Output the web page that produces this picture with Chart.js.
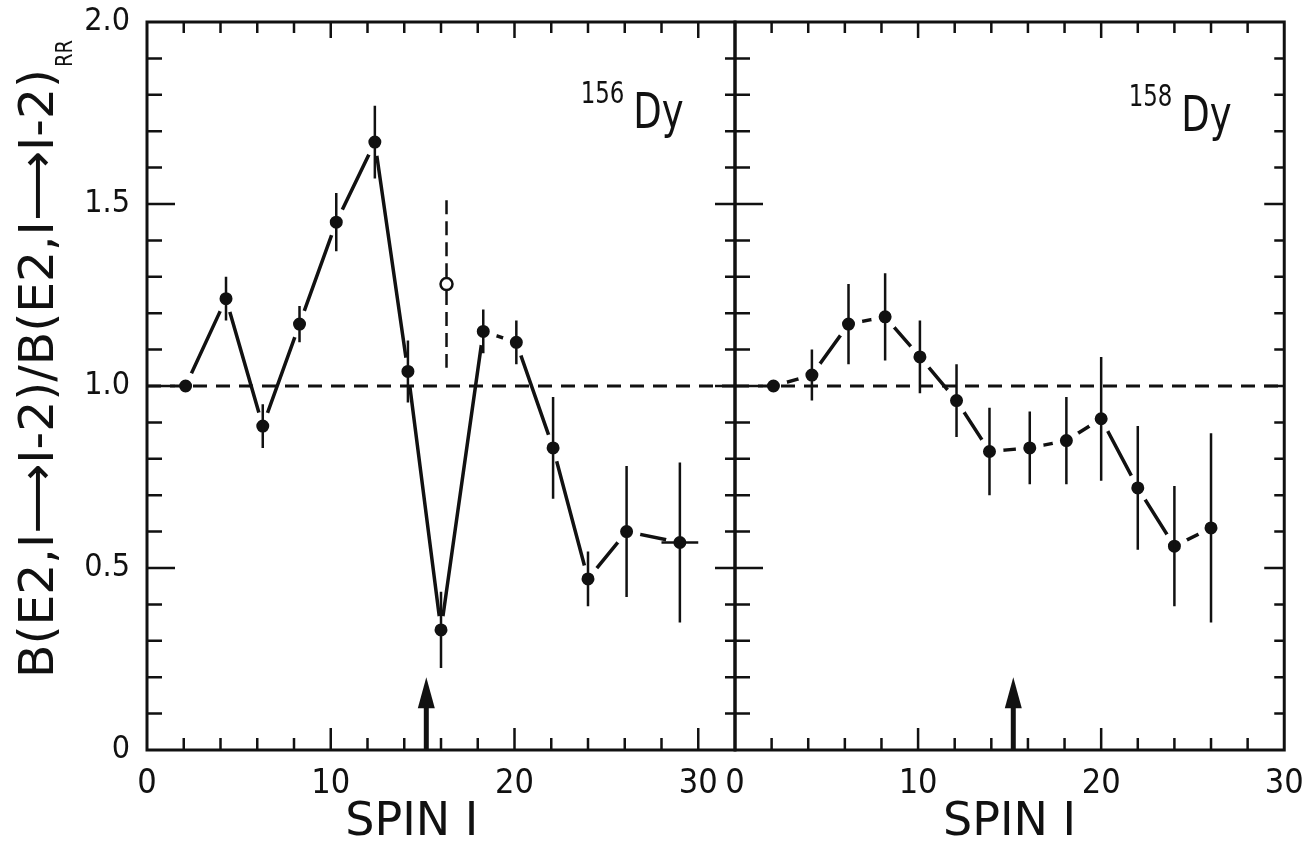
<!DOCTYPE html>
<html>
<head>
<meta charset="utf-8">
<title>B(E2) ratios in 156Dy and 158Dy</title>
<script src="https://cdn.jsdelivr.net/npm/chart.js@4.4.1/dist/chart.umd.min.js"></script>
<style>
  html, body { margin: 0; padding: 0; background: #fff; }
  #wrap { position: relative; width: 1302px; height: 853px; overflow: hidden; }
  canvas { position: absolute; top: 0; }
  #left { left: 0; }
  #right { left: 710px; }
</style>
</head>
<body>
<div id="wrap">
  <canvas id="left" width="760" height="853"></canvas>
  <canvas id="right" width="592" height="853"></canvas>
</div>
<script>
// 156Dy yrast band, B(E2) relative to the rigid rotor
const spin156 = [2.1, 4.3, 6.3, 8.3, 10.3, 12.4, 14.2, 16.0, 18.3, 20.1, 22.1, 24.0, 26.1, 29.0];
const ratio156 = [1.00, 1.24, 0.89, 1.17, 1.45, 1.67, 1.04, 0.33, 1.15, 1.12, 0.83, 0.47, 0.60, 0.57];
const err156 = [0, 0.06, 0.06, 0.05, 0.08, 0.10, 0.085, 0.105, 0.06, 0.06, 0.14, 0.075, 0.18, 0.22];
const spinErr156 = [0, 0, 0, 0, 0, 0, 0, 0, 0, 0, 0, 0, 0, 1.0];

// the single open point (uncertain value) in 156Dy
const spinOpen156 = [16.3];
const ratioOpen156 = [1.28];
const errOpen156 = [0.23];

// 158Dy
const spin158 = [2.1, 4.2, 6.2, 8.2, 10.1, 12.1, 13.9, 16.1, 18.1, 20.0, 22.0, 24.0, 26.0];
const ratio158 = [1.00, 1.03, 1.17, 1.19, 1.08, 0.96, 0.82, 0.83, 0.85, 0.91, 0.72, 0.56, 0.61];
const err158 = [0, 0.07, 0.11, 0.12, 0.10, 0.10, 0.12, 0.10, 0.12, 0.17, 0.17, 0.165, 0.26];

// band crossing marked by an arrow, and the rigid rotor reference
const crossingSpin = [15.2, 15.2];
const arrowTop = 0.2;
const rigidRotor = 1.0;

const ink = '#111';
const TICK_FONT = "'DejaVu Sans Condensed', 'DejaVu Sans', sans-serif";
const TEXT_FONT = "'DejaVu Sans', sans-serif";

function points(xs, ys) {
    return xs.map((x, i) => ({ x: x, y: ys[i] }));
}

// error bars drawn on top of the datasets
const errorBars = {
    id: 'errorBars',
    afterDatasetsDraw(chart) {
        const ctx = chart.ctx, xs = chart.scales.x, ys = chart.scales.y;
        chart.data.datasets.forEach(ds => {
            if (!ds.errY) return;
            ctx.save();
            ctx.strokeStyle = ink;
            ctx.lineWidth = 2.5;
            ctx.setLineDash(ds.errDash || []);
            const gap = ds.errGap || 0;
            ds.data.forEach((p, i) => {
                const px = xs.getPixelForValue(p.x), py = ys.getPixelForValue(p.y);
                if (ds.errY[i]) {
                    ctx.beginPath();
                    ctx.moveTo(px, ys.getPixelForValue(p.y + ds.errY[i]));
                    ctx.lineTo(px, py - gap);
                    ctx.moveTo(px, py + gap);
                    ctx.lineTo(px, ys.getPixelForValue(p.y - ds.errY[i]));
                    ctx.stroke();
                }
                if (ds.errX && ds.errX[i]) {
                    ctx.beginPath();
                    ctx.moveTo(xs.getPixelForValue(p.x - ds.errX[i]), py);
                    ctx.lineTo(xs.getPixelForValue(p.x + ds.errX[i]), py);
                    ctx.stroke();
                }
            });
            ctx.restore();
        });
    }
};

// box around the plot with inward ticks on all four sides
const frame = {
    id: 'frame',
    afterDraw(chart) {
        const ctx = chart.ctx, a = chart.chartArea;
        const xs = chart.scales.x, ys = chart.scales.y;
        ctx.save();
        ctx.strokeStyle = ink;
        ctx.lineWidth = 3;
        ctx.strokeRect(a.left, a.top, a.right - a.left, a.bottom - a.top);
        ctx.lineWidth = 2.5;
        ctx.beginPath();
        xs.ticks.forEach(t => {
            if (t.value <= xs.min || t.value >= xs.max) return;
            const p = xs.getPixelForValue(t.value);
            const major = t.value % 10 === 0;
            ctx.moveTo(p, a.bottom);
            ctx.lineTo(p, a.bottom - (major ? 22 : 12));
            ctx.moveTo(p, a.top);
            ctx.lineTo(p, a.top + (major ? 16 : 11));
        });
        ys.ticks.forEach(t => {
            const r = Math.round(t.value * 10);
            if (r <= 0 || r >= 20) return;
            const p = ys.getPixelForValue(t.value);
            const major = r % 5 === 0;
            ctx.moveTo(a.left, p);
            ctx.lineTo(a.left + (major ? 28 : 15), p);
            ctx.moveTo(a.right, p);
            ctx.lineTo(a.right - (major ? 20 : 10), p);
        });
        ctx.stroke();
        ctx.restore();
    }
};

// upward arrow at the crossing spin
const crossingArrow = {
    id: 'crossingArrow',
    afterDraw(chart, args, o) {
        const ctx = chart.ctx, xs = chart.scales.x, ys = chart.scales.y;
        const x = xs.getPixelForValue(o.spin);
        const tip = ys.getPixelForValue(arrowTop);
        const base = ys.getPixelForValue(0);
        ctx.save();
        ctx.fillStyle = ink;
        ctx.strokeStyle = ink;
        ctx.lineWidth = 5;
        ctx.beginPath();
        ctx.moveTo(x, base);
        ctx.lineTo(x, tip + 20);
        ctx.stroke();
        ctx.beginPath();
        ctx.moveTo(x, tip);
        ctx.lineTo(x - 8.5, tip + 31);
        ctx.lineTo(x + 8.5, tip + 31);
        ctx.closePath();
        ctx.fill();
        ctx.restore();
    }
};

// nucleus label with mass number as superscript
const isotope = {
    id: 'isotope',
    afterDraw(chart, args, o) {
        const ctx = chart.ctx;
        const x = chart.scales.x.getPixelForValue(o.at[0]);
        const y = chart.scales.y.getPixelForValue(o.at[1]);
        ctx.save();
        ctx.fillStyle = ink;
        ctx.textBaseline = 'alphabetic';
        ctx.translate(x, y);
        ctx.scale(0.74, 1);
        ctx.font = '31px ' + TEXT_FONT;
        ctx.fillText(o.mass, 0, -25);
        const w = ctx.measureText(o.mass).width;
        ctx.font = '50px ' + TEXT_FONT;
        ctx.fillText(o.symbol, w + 12, 0);
        ctx.restore();
    }
};

// rotated y title with the RR subscript
const yTitle = {
    id: 'yTitle',
    afterDraw(chart, args, o) {
        if (!o.text) return;
        const ctx = chart.ctx;
        ctx.save();
        ctx.fillStyle = ink;
        ctx.textBaseline = 'alphabetic';
        ctx.translate(o.x, o.bottom);
        ctx.rotate(-Math.PI / 2);
        ctx.font = '48px ' + TEXT_FONT;
        const w = ctx.measureText(o.text).width;
        ctx.save();
        ctx.scale(o.length / w, 1);
        ctx.fillText(o.text, 0, 0);
        ctx.restore();
        ctx.font = '23px ' + TEXT_FONT;
        ctx.save();
        ctx.translate(o.length + 2, 19);
        ctx.scale(0.85, 1);
        ctx.fillText(o.sub, 0, 0);
        ctx.restore();
        ctx.restore();
    }
};

function makePanel(canvasId, p) {
    const datasets = [
        {
            data: [{ x: 0, y: rigidRotor }, { x: p.xMax, y: rigidRotor }],
            showLine: true,
            borderColor: ink,
            borderWidth: 3,
            borderDash: [14, 9],
            pointRadius: 0,
            order: 0
        },
        {
            data: points(p.spin, p.ratio),
            showLine: true,
            borderColor: ink,
            borderWidth: 3.5,
            pointRadius: 10.25,
            pointBorderWidth: 7.5,
            pointBackgroundColor: ink,
            pointBorderColor: '#fff',
            errY: p.err,
            errX: p.spinErr,
            order: 1
        }
    ];
    if (p.openSpin) {
        datasets.push({
            data: points(p.openSpin, p.openRatio),
            showLine: false,
            pointRadius: 6,
            pointBorderWidth: 2.5,
            pointBackgroundColor: '#fff',
            pointBorderColor: ink,
            errY: p.openErr,
            errDash: [14, 7],
            errGap: 7,
            order: 1
        });
    }

    return new Chart(document.getElementById(canvasId), {
        type: 'scatter',
        data: { datasets: datasets },
        options: {
            responsive: false,
            animation: false,
            events: [],
            layout: { padding: { top: 22, right: p.padRight, bottom: 0, left: 0 } },
            scales: {
                x: {
                    type: 'linear',
                    min: 0,
                    max: p.xMax,
                    grid: { display: false },
                    border: { display: false },
                    ticks: {
                        stepSize: 2,
                        autoSkip: false,
                        maxRotation: 0,
                        padding: 6,
                        color: ink,
                        font: { family: TICK_FONT, size: 34 },
                        callback: v => (v % 10 === 0 && v <= 30) ? String(v) : ''
                    },
                    title: {
                        display: true,
                        text: p.xTitle,
                        color: ink,
                        font: { family: TEXT_FONT, size: 46 },
                        padding: { top: 0, bottom: 2 }
                    },
                    afterFit: s => { s.height = 103; s.paddingLeft = 0; s.paddingRight = 0; }
                },
                y: {
                    type: 'linear',
                    min: 0,
                    max: 2,
                    grid: { display: false },
                    border: { display: false },
                    ticks: {
                        stepSize: 0.1,
                        autoSkip: false,
                        padding: 9,
                        color: ink,
                        font: { family: TICK_FONT, size: 32 },
                        callback: v => {
                            const r = Math.round(v * 10);
                            if (!p.yLabels || r % 5) return '';
                            return r === 0 ? '0' : (r / 10).toFixed(1);
                        }
                    },
                    afterFit: s => { s.width = p.yWidth; s.paddingTop = 0; s.paddingBottom = 0; }
                }
            },
            plugins: {
                legend: { display: false },
                tooltip: { enabled: false },
                crossingArrow: { spin: p.arrow },
                isotope: { mass: p.mass, symbol: 'Dy', at: p.labelAt },
                yTitle: p.yTitle || {}
            }
        },
        plugins: [errorBars, frame, crossingArrow, isotope, yTitle]
    });
}

makePanel('left', {
    spin: spin156, ratio: ratio156, err: err156, spinErr: spinErr156,
    openSpin: spinOpen156, openRatio: ratioOpen156, openErr: errOpen156,
    xMax: 32, yWidth: 147, padRight: 25, yLabels: true,
    xTitle: 'SPIN I    ', arrow: crossingSpin[0],
    mass: '156', labelAt: [23.6, 1.71],
    yTitle: { text: 'B(E2,I\u27F6I-2)/B(E2,I\u27F6I-2)', sub: 'RR', x: 53, bottom: 678, length: 609 }
});

makePanel('right', {
    spin: spin158, ratio: ratio158, err: err158,
    xMax: 30, yWidth: 25, padRight: 12, yLabels: false,
    xTitle: 'SPIN I', arrow: crossingSpin[1],
    mass: '158', labelAt: [21.5, 1.70]
});
</script>
</body>
</html>
